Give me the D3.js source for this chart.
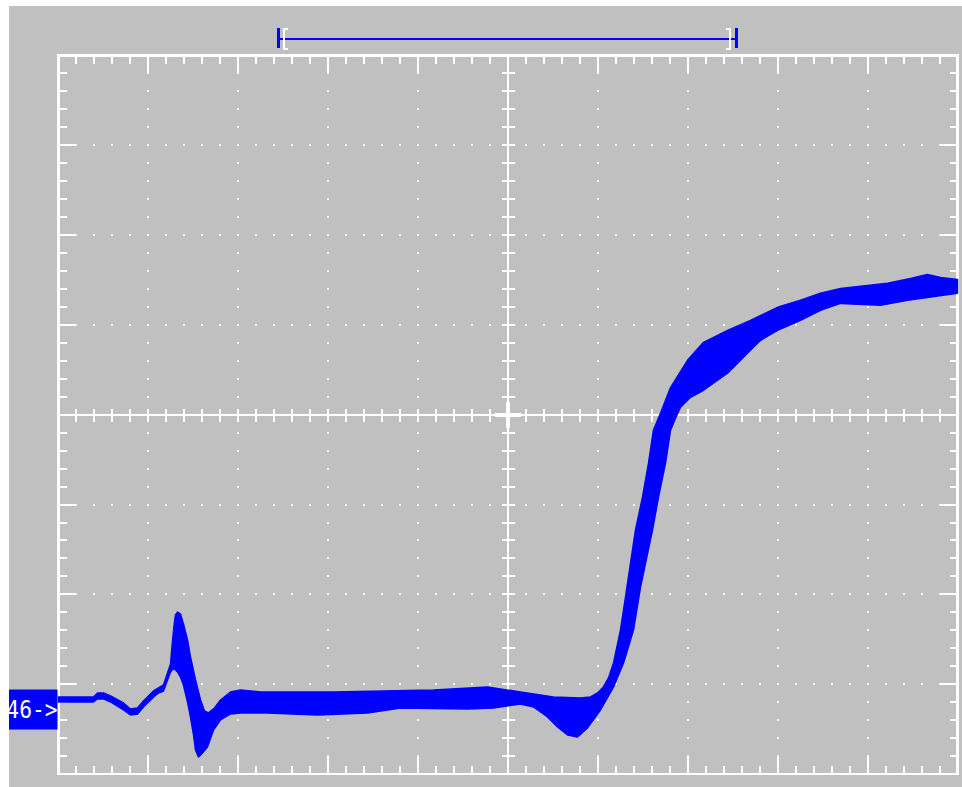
<!DOCTYPE html>
<html>
<head>
<meta charset="utf-8">
<script src="https://cdn.jsdelivr.net/npm/d3@7"></script>
<style>
html, body { margin: 0; padding: 0; background: #fff; overflow: hidden; }
</style>
</head>
<body>
<div id="scope"></div>
<script>
// persistence band of the trace, time in divisions (0..10), level in divisions (-4..4)
var upperTime = [0, 0.389, 0.434, 0.501, 0.579, 0.723, 0.801, 0.879, 0.945, 1.057, 1.112, 1.168, 1.246, 1.268, 1.290, 1.301, 1.324, 1.357, 1.390, 1.435, 1.468, 1.524, 1.580, 1.624, 1.669, 1.735, 1.802, 1.913, 2.024, 2.247, 3.059, 4.171, 4.772, 5.139, 5.506, 5.806, 5.918, 5.996, 6.062, 6.118, 6.174, 6.251, 6.307, 6.363, 6.418, 6.496, 6.563, 6.618, 6.696, 6.808, 6.997, 7.175, 7.442, 7.697, 7.998, 8.254, 8.476, 8.699, 9.221, 9.477, 9.666, 9.811, 10.0]
var upperLevel = [-3.142, -3.142, -3.098, -3.098, -3.131, -3.209, -3.276, -3.265, -3.187, -3.076, -3.042, -3.009, -2.775, -2.520, -2.308, -2.230, -2.197, -2.219, -2.330, -2.508, -2.697, -2.953, -3.176, -3.298, -3.320, -3.265, -3.176, -3.087, -3.065, -3.087, -3.087, -3.065, -3.031, -3.087, -3.142, -3.153, -3.142, -3.098, -3.031, -2.931, -2.764, -2.397, -2.030, -1.652, -1.285, -0.918, -0.539, -0.172, 0.017, 0.303, 0.606, 0.806, 0.940, 1.051, 1.196, 1.274, 1.352, 1.407, 1.463, 1.518, 1.563, 1.529, 1.507]
var lowerTime = [0, 0.389, 0.434, 0.501, 0.579, 0.723, 0.801, 0.879, 0.945, 1.057, 1.112, 1.168, 1.246, 1.279, 1.324, 1.357, 1.390, 1.435, 1.468, 1.502, 1.524, 1.557, 1.602, 1.657, 1.724, 1.802, 1.913, 2.024, 2.325, 2.881, 3.437, 3.804, 4.549, 4.839, 5.139, 5.284, 5.439, 5.551, 5.662, 5.773, 5.884, 6.029, 6.174, 6.285, 6.396, 6.474, 6.530, 6.607, 6.674, 6.752, 6.808, 6.863, 6.919, 7.030, 7.175, 7.442, 7.664, 7.809, 7.998, 8.254, 8.476, 8.699, 9.143, 9.444, 10.0]
var lowerLevel = [-3.198, -3.198, -3.164, -3.164, -3.198, -3.287, -3.343, -3.331, -3.254, -3.142, -3.098, -3.076, -2.864, -2.820, -2.864, -2.920, -3.009, -3.198, -3.365, -3.565, -3.732, -3.810, -3.765, -3.699, -3.510, -3.398, -3.331, -3.320, -3.320, -3.343, -3.320, -3.265, -3.276, -3.265, -3.220, -3.254, -3.365, -3.476, -3.565, -3.587, -3.487, -3.287, -3.031, -2.764, -2.397, -1.919, -1.652, -1.285, -0.918, -0.539, -0.172, -0.039, 0.083, 0.195, 0.273, 0.462, 0.684, 0.829, 0.940, 1.051, 1.162, 1.240, 1.218, 1.274, 1.352]

// time window bar above the screen and channel ground marker
var windowStart = 2.45
var windowEnd = 7.54
var windowLevel = 4.18
var markerLabel = "46->"
var markerLevel = -3.26

var width = 962, height = 787
var blue = "#0000ff", grey = "#c0c0c0"

var x = d3.scaleLinear().domain([0, 10]).range([58.5, 957.5])
var y = d3.scaleLinear().domain([-4, 4]).range([774, 55.5])

var svg = d3.select("#scope").append("svg")
    .attr("width", width)
    .attr("height", height)

svg.append("rect")
    .attr("x", 9).attr("y", 6)
    .attr("width", width - 9).attr("height", height - 6)
    .attr("fill", grey)

var grid = svg.append("g").attr("shape-rendering", "crispEdges")

var xMinor = x.ticks(50).filter(function (d) { return d > 0 && d < 10 })
var yMinor = y.ticks(40).filter(function (d) { return d > -4 && d < 4 })
var isMajor = function (d) { return Math.abs(d - Math.round(d)) < 1e-6 }

// dotted graticule
var dots = []
x.ticks(10).forEach(function (t) {
    if (t <= 0 || t >= 10 || t == 5) return
    yMinor.forEach(function (v) { dots.push([t, v]) })
})
y.ticks(8).forEach(function (v) {
    if (v <= -4 || v >= 4 || v == 0) return
    xMinor.forEach(function (t) { if (!isMajor(t)) dots.push([t, v]) })
})
grid.selectAll(".dot")
    .data(dots)
    .enter().append("rect")
    .attr("class", "dot")
    .attr("x", function (d) { return Math.round(x(d[0])) - 1 })
    .attr("y", function (d) { return Math.round(y(d[1])) - 1 })
    .attr("width", 2).attr("height", 2)
    .attr("fill", "#f4f4f4")

// frame
grid.append("rect")
    .attr("x", x(0)).attr("y", y(4))
    .attr("width", x(10) - x(0)).attr("height", y(-4) - y(4))
    .attr("fill", "none").attr("stroke", "#fff").attr("stroke-width", 2.5)

// edge ticks
var tickLen = function (d) { return isMajor(d) ? 17 : 8 }
grid.selectAll(".ttop").data(xMinor).enter().append("line")
    .attr("x1", x).attr("x2", x)
    .attr("y1", y(4)).attr("y2", function (d) { return y(4) + tickLen(d) })
grid.selectAll(".tbot").data(xMinor).enter().append("line")
    .attr("x1", x).attr("x2", x)
    .attr("y1", y(-4)).attr("y2", function (d) { return y(-4) - tickLen(d) })
grid.selectAll(".tleft").data(yMinor).enter().append("line")
    .attr("y1", y).attr("y2", y)
    .attr("x1", x(0)).attr("x2", function (d) { return x(0) + tickLen(d) })
grid.selectAll(".tright").data(yMinor).enter().append("line")
    .attr("y1", y).attr("y2", y)
    .attr("x1", x(10)).attr("x2", function (d) { return x(10) - tickLen(d) })

// centre axes
grid.append("line")
    .attr("x1", x(0)).attr("x2", x(10)).attr("y1", y(0)).attr("y2", y(0))
    .attr("stroke-width", 2.5)
grid.append("line")
    .attr("x1", x(5)).attr("x2", x(5)).attr("y1", y(4)).attr("y2", y(-4))
    .attr("stroke-width", 2.5)
grid.selectAll(".thc").data(xMinor).enter().append("line")
    .attr("x1", x).attr("x2", x)
    .attr("y1", y(0) - 6).attr("y2", y(0) + 7)
grid.selectAll(".tvc").data(yMinor).enter().append("line")
    .attr("y1", y).attr("y2", y)
    .attr("x1", x(5) - 6).attr("x2", x(5) + 7)
grid.append("line")
    .attr("x1", x(5) - 13).attr("x2", x(5) + 13).attr("y1", y(0)).attr("y2", y(0))
    .attr("stroke-width", 4)
grid.append("line")
    .attr("x1", x(5)).attr("x2", x(5)).attr("y1", y(0) - 13).attr("y2", y(0) + 13)
    .attr("stroke-width", 4)

grid.selectAll("line")
    .attr("stroke", "#fff")
    .attr("stroke-width", function () { return d3.select(this).attr("stroke-width") || 2 })

// trace band: upper edge forward, lower edge back
var band = d3.zip(upperTime, upperLevel)
    .concat(d3.zip(lowerTime, lowerLevel).reverse())
var line = d3.line()
    .x(function (d) { return x(d[0]) })
    .y(function (d) { return y(d[1]) })

svg.append("path")
    .attr("d", line(band) + "Z")
    .attr("fill", blue)
    .attr("stroke", blue)
    .attr("stroke-width", 1.5)
    .attr("stroke-linejoin", "round")

// time window bar
var wy = y(windowLevel)
var bar = svg.append("g").attr("shape-rendering", "crispEdges")
bar.append("line")
    .attr("x1", x(windowStart)).attr("x2", x(windowEnd))
    .attr("y1", wy).attr("y2", wy)
    .attr("stroke", blue).attr("stroke-width", 2)
;[windowStart, windowEnd].forEach(function (t) {
    bar.append("line")
        .attr("x1", x(t)).attr("x2", x(t))
        .attr("y1", wy - 11).attr("y2", wy + 9)
        .attr("stroke", blue).attr("stroke-width", 3)
})
var bx = [[x(windowStart) + 5, 4], [x(windowEnd) - 6, -4]]
bx.forEach(function (b) {
    bar.append("path")
        .attr("d", "M" + (b[0] + b[1]) + "," + (wy - 10) + "H" + b[0] + "V" + (wy + 10) + "H" + (b[0] + b[1]))
        .attr("fill", "none").attr("stroke", "#fff").attr("stroke-width", 2)
})

// ground marker
var my = y(markerLevel)
svg.append("clipPath").attr("id", "mclip")
    .append("rect")
    .attr("x", 9).attr("y", my - 18).attr("width", x(0) - 10).attr("height", 40)
svg.append("rect")
    .attr("x", 9).attr("y", my - 18)
    .attr("width", x(0) - 10).attr("height", 40)
    .attr("fill", blue)
svg.append("g").attr("clip-path", "url(#mclip)")
    .append("text")
    .attr("transform", "translate(" + (x(0) - 1) + "," + (my + 10) + ") scale(0.85,1)")
    .attr("text-anchor", "end")
    .attr("font-family", "DejaVu Sans Mono")
    .attr("font-size", 25)
    .attr("fill", "#fff")
    .text(markerLabel)
</script>
</body>
</html>
